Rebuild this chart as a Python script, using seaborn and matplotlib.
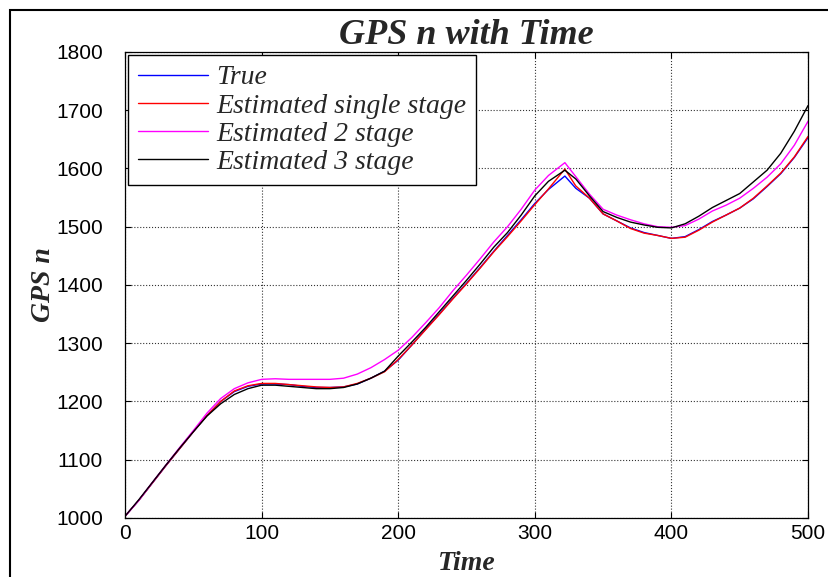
import matplotlib
matplotlib.use("Agg")
import matplotlib.pyplot as plt
import seaborn as sns
import pandas as pd
from matplotlib.patches import Rectangle

time = [0, 10, 20, 30, 40, 50, 60, 70, 80, 90,
        100, 110, 120, 130, 140, 150, 160, 170, 180, 190,
        200, 210, 220, 230, 240, 250, 260, 270, 280, 290,
        300, 310, 322, 330, 340, 350, 360, 370, 380, 390,
        400, 410, 420, 430, 440, 450, 460, 470, 480, 490, 500]

true_n = [1003, 1030, 1060, 1090, 1119, 1148, 1176, 1200, 1217, 1226,
          1230, 1230, 1229, 1226, 1224, 1224, 1225, 1230, 1240, 1252,
          1271, 1297, 1324, 1350, 1377, 1403, 1430, 1458, 1485, 1512,
          1540, 1564, 1587, 1566, 1549, 1522, 1510, 1498, 1490, 1485,
          1480, 1483, 1495, 1509, 1520, 1532, 1548, 1569, 1591, 1619, 1653]

single_stage = [1003, 1030, 1060, 1090, 1119, 1148, 1176, 1200, 1218, 1227,
                1231, 1231, 1229, 1227, 1225, 1224, 1225, 1231, 1240, 1251,
                1272, 1297, 1323, 1349, 1376, 1402, 1429, 1457, 1483, 1510,
                1538, 1565, 1599, 1570, 1549, 1522, 1510, 1497, 1489, 1485,
                1480, 1482, 1494, 1508, 1520, 1532, 1549, 1570, 1592, 1620, 1655]

two_stage = [1003, 1030, 1061, 1091, 1121, 1150, 1180, 1205, 1222, 1232,
             1238, 1239, 1238, 1238, 1238, 1238, 1240, 1247, 1258, 1272,
             1288, 1310, 1335, 1361, 1390, 1417, 1445, 1474, 1500, 1530,
             1563, 1588, 1610, 1586, 1556, 1530, 1520, 1512, 1505, 1500,
             1499, 1502, 1513, 1527, 1537, 1549, 1566, 1585, 1608, 1640, 1681]

three_stage = [1003, 1031, 1061, 1091, 1120, 1148, 1175, 1196, 1212, 1222,
               1228, 1228, 1226, 1224, 1222, 1222, 1224, 1230, 1240, 1252,
               1278, 1302, 1327, 1354, 1381, 1408, 1436, 1465, 1490, 1520,
               1553, 1578, 1597, 1582, 1553, 1526, 1516, 1508, 1503, 1499,
               1498, 1505, 1518, 1533, 1545, 1557, 1577, 1597, 1626, 1664, 1708]

labels = ["True", "Estimated single stage", "Estimated 2 stage", "Estimated 3 stage"]
series = [true_n, single_stage, two_stage, three_stage]
colors = ["#0000FF", "#FF0000", "#FF00FF", "#000000"]

df = pd.concat([pd.DataFrame({"Time": time, "GPS n": s, "Series": lab})
                for lab, s in zip(labels, series)], ignore_index=True)

sns.set_theme(style="white")
plt.rcParams["font.family"] = ["Liberation Sans", "DejaVu Sans"]

fig = plt.figure(figsize=(8.29, 5.77), dpi=100)
ax = fig.add_axes([0.1508, 0.1023, 0.8239, 0.8076])

sns.lineplot(data=df, x="Time", y="GPS n", hue="Series", hue_order=labels,
             palette=colors, linewidth=1.0, ax=ax, sort=False, estimator=None)

ax.set_xlim(0, 500)
ax.set_ylim(1000, 1800)
ax.set_xticks([0, 100, 200, 300, 400, 500])
ax.set_yticks([1000, 1100, 1200, 1300, 1400, 1500, 1600, 1700, 1800])
ax.grid(True, linestyle=":", color="#333333", linewidth=0.8)
ax.tick_params(axis="both", direction="in", length=4, width=0.8, colors="black",
               labelsize=15, top=True, right=True, bottom=True, left=True)
ax.tick_params(axis="y", pad=16)
ax.tick_params(axis="x", pad=4)
for lab in ax.get_xticklabels() + ax.get_yticklabels():
    lab.set_fontfamily("Liberation Sans")
for sp in ax.spines.values():
    sp.set_color("black")
    sp.set_linewidth(0.9)

serif_bi = dict(family="Liberation Serif", style="italic", weight="bold")
ax.set_title("GPS n with Time", fontsize=26, pad=6, **serif_bi)
ax.set_xlabel("Time", fontsize=20, labelpad=6, **serif_bi)
ax.set_ylabel("GPS n", fontsize=20, labelpad=0, **serif_bi)

leg = ax.legend(loc="upper left", prop=dict(family="Liberation Serif", style="italic", size=20),
                handlelength=2.5, handletextpad=0.3, borderpad=0.35, labelspacing=0.1,
                frameon=True, fancybox=False, borderaxespad=0.12)
leg.get_frame().set_edgecolor("black")
leg.get_frame().set_linewidth(1.0)
leg.get_frame().set_alpha(1.0)

# outer figure frame
fig.patches.append(Rectangle((10 / 829, -0.1), 1.2, 1.1 - 10 / 577,
                             transform=fig.transFigure, fill=False,
                             edgecolor="black", linewidth=1.5))

fig.savefig("out.png", dpi=100)
